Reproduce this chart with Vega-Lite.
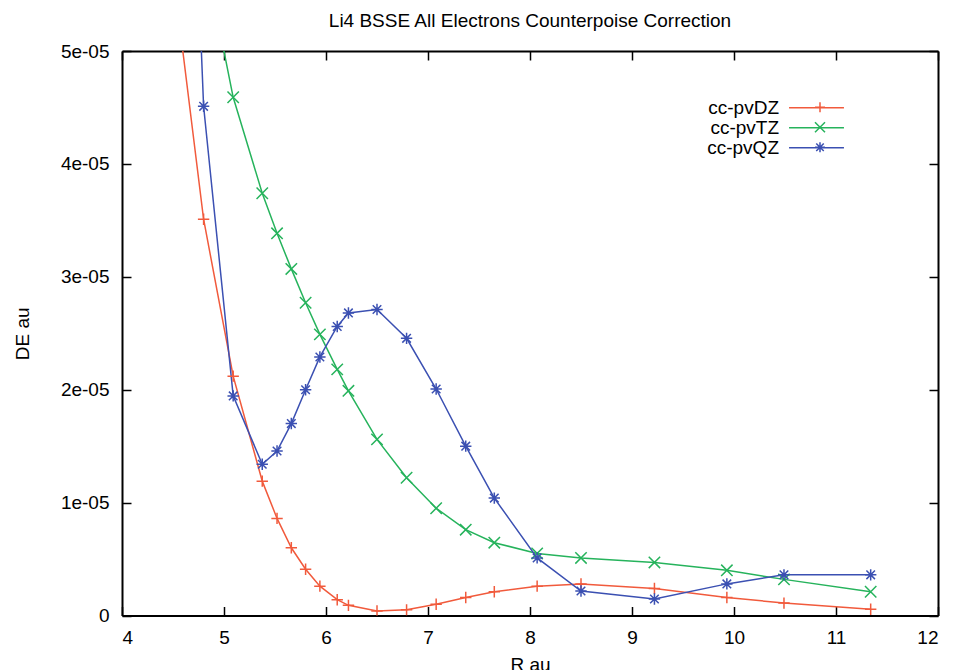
{
  "$schema": "https://vega.github.io/schema/vega-lite/v6.json",
  "width": 816,
  "height": 564.5,
  "autosize": {"type": "none"},
  "padding": {"left": 122, "top": 51, "right": 18, "bottom": 54.5},
  "background": "white",
  "config": {
    "view": {"stroke": null},
    "font": "Liberation Sans",
    "axis": {"grid": false, "domainColor": "black", "domainWidth": 2, "tickColor": "black", "tickWidth": 1.5, "labelFont": "Liberation Sans", "labelFontSize": 19, "labelColor": "black", "titleFont": "Liberation Sans", "titleFontSize": 19, "titleFontWeight": "normal", "titleColor": "black"},
    "legend": {"labelFont": "Liberation Sans", "labelFontSize": 19, "labelColor": "black", "padding": 0, "rowPadding": -1.7}
  },
  "title": {"text": "Li4 BSSE All Electrons Counterpoise Correction", "font": "Liberation Sans", "fontSize": 19, "fontWeight": "normal", "color": "black", "anchor": "middle", "offset": 11},
  "data": {"values": [
    {"series": "cc-pvDZ", "R": 4.51, "DE": 5.63e-5},
    {"series": "cc-pvDZ", "R": 4.80, "DE": 3.51e-5},
    {"series": "cc-pvDZ", "R": 5.09, "DE": 2.12e-5},
    {"series": "cc-pvDZ", "R": 5.375, "DE": 1.19e-5},
    {"series": "cc-pvDZ", "R": 5.52, "DE": 0.86e-5},
    {"series": "cc-pvDZ", "R": 5.66, "DE": 0.60e-5},
    {"series": "cc-pvDZ", "R": 5.80, "DE": 0.41e-5},
    {"series": "cc-pvDZ", "R": 5.94, "DE": 0.26e-5},
    {"series": "cc-pvDZ", "R": 6.11, "DE": 0.14e-5},
    {"series": "cc-pvDZ", "R": 6.22, "DE": 0.09e-5},
    {"series": "cc-pvDZ", "R": 6.50, "DE": 0.04e-5},
    {"series": "cc-pvDZ", "R": 6.79, "DE": 0.05e-5},
    {"series": "cc-pvDZ", "R": 7.08, "DE": 0.10e-5},
    {"series": "cc-pvDZ", "R": 7.37, "DE": 0.16e-5},
    {"series": "cc-pvDZ", "R": 7.65, "DE": 0.21e-5},
    {"series": "cc-pvDZ", "R": 8.07, "DE": 0.26e-5},
    {"series": "cc-pvDZ", "R": 8.50, "DE": 0.28e-5},
    {"series": "cc-pvDZ", "R": 9.22, "DE": 0.24e-5},
    {"series": "cc-pvDZ", "R": 9.93, "DE": 0.16e-5},
    {"series": "cc-pvDZ", "R": 10.49, "DE": 0.11e-5},
    {"series": "cc-pvDZ", "R": 11.34, "DE": 0.055e-5},
    {"series": "cc-pvTZ", "R": 4.80, "DE": 5.9e-5},
    {"series": "cc-pvTZ", "R": 5.09, "DE": 4.59e-5},
    {"series": "cc-pvTZ", "R": 5.375, "DE": 3.74e-5},
    {"series": "cc-pvTZ", "R": 5.52, "DE": 3.385e-5},
    {"series": "cc-pvTZ", "R": 5.66, "DE": 3.07e-5},
    {"series": "cc-pvTZ", "R": 5.80, "DE": 2.77e-5},
    {"series": "cc-pvTZ", "R": 5.94, "DE": 2.49e-5},
    {"series": "cc-pvTZ", "R": 6.11, "DE": 2.18e-5},
    {"series": "cc-pvTZ", "R": 6.22, "DE": 1.99e-5},
    {"series": "cc-pvTZ", "R": 6.50, "DE": 1.56e-5},
    {"series": "cc-pvTZ", "R": 6.79, "DE": 1.22e-5},
    {"series": "cc-pvTZ", "R": 7.08, "DE": 0.95e-5},
    {"series": "cc-pvTZ", "R": 7.37, "DE": 0.76e-5},
    {"series": "cc-pvTZ", "R": 7.65, "DE": 0.645e-5},
    {"series": "cc-pvTZ", "R": 8.07, "DE": 0.55e-5},
    {"series": "cc-pvTZ", "R": 8.50, "DE": 0.51e-5},
    {"series": "cc-pvTZ", "R": 9.22, "DE": 0.47e-5},
    {"series": "cc-pvTZ", "R": 9.93, "DE": 0.40e-5},
    {"series": "cc-pvTZ", "R": 10.49, "DE": 0.32e-5},
    {"series": "cc-pvTZ", "R": 11.34, "DE": 0.21e-5},
    {"series": "cc-pvQZ", "R": 4.51, "DE": 11.0e-5},
    {"series": "cc-pvQZ", "R": 4.80, "DE": 4.51e-5},
    {"series": "cc-pvQZ", "R": 5.09, "DE": 1.945e-5},
    {"series": "cc-pvQZ", "R": 5.375, "DE": 1.34e-5},
    {"series": "cc-pvQZ", "R": 5.52, "DE": 1.457e-5},
    {"series": "cc-pvQZ", "R": 5.66, "DE": 1.70e-5},
    {"series": "cc-pvQZ", "R": 5.80, "DE": 2.00e-5},
    {"series": "cc-pvQZ", "R": 5.94, "DE": 2.29e-5},
    {"series": "cc-pvQZ", "R": 6.11, "DE": 2.56e-5},
    {"series": "cc-pvQZ", "R": 6.22, "DE": 2.68e-5},
    {"series": "cc-pvQZ", "R": 6.50, "DE": 2.71e-5},
    {"series": "cc-pvQZ", "R": 6.79, "DE": 2.455e-5},
    {"series": "cc-pvQZ", "R": 7.08, "DE": 2.006e-5},
    {"series": "cc-pvQZ", "R": 7.37, "DE": 1.50e-5},
    {"series": "cc-pvQZ", "R": 7.65, "DE": 1.04e-5},
    {"series": "cc-pvQZ", "R": 8.07, "DE": 0.51e-5},
    {"series": "cc-pvQZ", "R": 8.50, "DE": 0.217e-5},
    {"series": "cc-pvQZ", "R": 9.22, "DE": 0.146e-5},
    {"series": "cc-pvQZ", "R": 9.93, "DE": 0.28e-5},
    {"series": "cc-pvQZ", "R": 10.49, "DE": 0.36e-5},
    {"series": "cc-pvQZ", "R": 11.34, "DE": 0.36e-5}
  ]},
  "resolve": {"axis": {"x": "independent", "y": "independent"}},
  "layer": [
    {
      "mark": {"type": "line", "clip": true, "strokeWidth": 1.5},
      "encoding": {
        "x": {"field": "R", "type": "quantitative", "scale": {"domain": [4, 12], "nice": false, "zero": false},
              "axis": {"orient": "bottom", "values": [4,5,6,7,8,9,10,11,12], "tickSize": -9, "labelPadding": 22, "labelBaseline": "top", "title": "R au", "titleY": 55, "titleBaseline": "alphabetic"}},
        "y": {"field": "DE", "type": "quantitative", "scale": {"domain": [0, 0.00005], "nice": false},
              "axis": {"orient": "left", "values": [0, 0.00001, 0.00002, 0.00003, 0.00004, 0.00005], "tickSize": -9, "labelPadding": 22, "labelExpr": "datum.value == 0 ? '0' : replace(format(datum.value, '.0e'), 'e-5', 'e-05')", "title": "DE au", "titleX": -94, "titleBaseline": "alphabetic"}},
        "stroke": {"field": "series", "type": "nominal",
                  "scale": {"domain": ["cc-pvDZ", "cc-pvQZ", "cc-pvTZ"], "range": ["#f15a3c", "#3b50b2", "#26b35c"]},
                  "legend": {"orient": "none", "legendX": 684.5, "legendY": 46.7, "title": null,
                             "values": ["cc-pvDZ", "cc-pvTZ", "cc-pvQZ"],
                             "symbolType": "M-3.05,0L3.05,0", "symbolSize": 324, "symbolStrokeWidth": 1.5,
                             "labelAlign": "right", "labelOffset": -47.5}}
      }
    },
    {
      "mark": {"type": "point", "clip": true, "filled": false, "strokeWidth": 1.5, "opacity": 1},
      "encoding": {
        "x": {"field": "R", "type": "quantitative", "axis": {"orient": "top", "values": [4,5,6,7,8,9,10,11,12], "tickSize": -9, "labels": false, "title": null}},
        "y": {"field": "DE", "type": "quantitative", "axis": {"orient": "right", "values": [0, 0.00001, 0.00002, 0.00003, 0.00004, 0.00005], "tickSize": -9, "labels": false, "title": null}},
        "color": {"field": "series", "type": "nominal",
                  "scale": {"domain": ["cc-pvDZ", "cc-pvTZ", "cc-pvQZ"], "range": ["#f15a3c", "#26b35c", "#3b50b2"]},
                  "legend": {"orient": "none", "legendX": 688.5, "legendY": 46.7, "title": null,
                             "symbolSize": 100, "symbolStrokeWidth": 1.5, "labelOpacity": 0}},
        "shape": {"field": "series", "type": "nominal",
                  "scale": {"domain": ["cc-pvDZ", "cc-pvTZ", "cc-pvQZ"], "range": ["M-1,0L1,0M0,-1L0,1", "M-1,-1L1,1M-1,1L1,-1", "M-1,0L1,0M0,-1L0,1M-0.75,-0.75L0.75,0.75M-0.75,0.75L0.75,-0.75"]},
                  "legend": {"orient": "none", "legendX": 688.5, "legendY": 46.7, "title": null,
                             "symbolSize": 100, "symbolStrokeWidth": 1.5, "labelOpacity": 0}},
        "size": {"value": 130}
      }
    }
  ]
}
